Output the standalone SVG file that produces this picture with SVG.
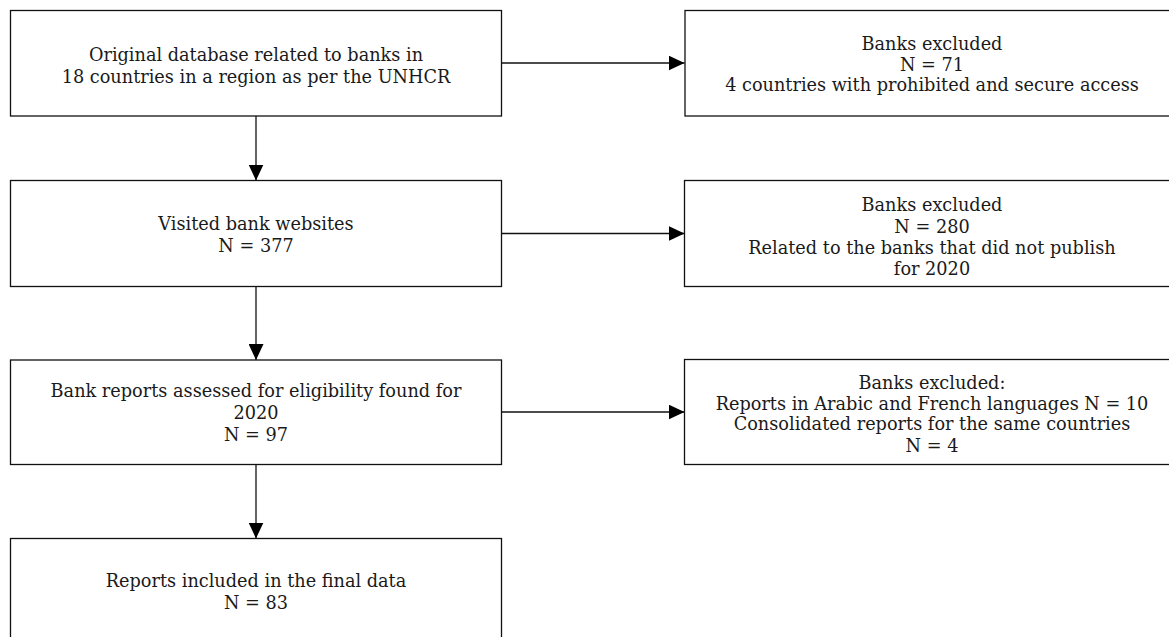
<svg xmlns="http://www.w3.org/2000/svg" width="1169" height="637" viewBox="0 0 1169 637">
<defs>
<marker id="arr" markerUnits="userSpaceOnUse" markerWidth="16" markerHeight="15" refX="16" refY="7.5" orient="auto">
<path d="M0,0 L16,7.5 L0,15 Z" fill="#000"/>
</marker>
<style>
.box{fill:#fff;stroke:#111;stroke-width:1.3}
.t{font-family:"DejaVu Serif","Liberation Serif",serif;font-size:17.7px;fill:#1a1a1a;text-anchor:middle}
.c{stroke:#111;stroke-width:1.3;fill:none}
</style>
</defs>
<rect width="1169" height="637" fill="#fff"/>
<g id="connectors">
<line class="c" x1="501.5" y1="63" x2="684.5" y2="63" marker-end="url(#arr)"/>
<line class="c" x1="501.5" y1="233.5" x2="684.5" y2="233.5" marker-end="url(#arr)"/>
<line class="c" x1="501.5" y1="412" x2="684.5" y2="412" marker-end="url(#arr)"/>
<line class="c" x1="256" y1="116" x2="256" y2="180.5" marker-end="url(#arr)"/>
<line class="c" x1="256" y1="286.5" x2="256" y2="360" marker-end="url(#arr)"/>
<line class="c" x1="256" y1="464.5" x2="256" y2="538.5" marker-end="url(#arr)"/>
</g>
<g id="n1">
<rect class="box" x="10.5" y="10.5" width="491" height="105.5"/>
<text class="t" x="256" y="61">Original database related to banks in</text>
<text class="t" x="256" y="83">18 countries in a region as per the UNHCR</text>
</g>
<g id="n2">
<rect class="box" x="685" y="10.5" width="494" height="105.5"/>
<text class="t" x="932" y="50">Banks excluded</text>
<text class="t" x="932" y="71">N = 71</text>
<text class="t" x="932" y="91">4 countries with prohibited and secure access</text>
</g>
<g id="n3">
<rect class="box" x="10.5" y="180.5" width="491" height="106"/>
<text class="t" x="256" y="230">Visited bank websites</text>
<text class="t" x="256" y="251.5">N = 377</text>
</g>
<g id="n4">
<rect class="box" x="684.5" y="180.5" width="494" height="106"/>
<text class="t" x="932" y="211">Banks excluded</text>
<text class="t" x="932" y="233">N = 280</text>
<text class="t" x="932" y="254">Related to the banks that did not publish</text>
<text class="t" x="932" y="275">for 2020</text>
</g>
<g id="n5">
<rect class="box" x="10.5" y="360" width="491" height="104.5"/>
<text class="t" x="256" y="397">Bank reports assessed for eligibility found for</text>
<text class="t" x="256" y="419">2020</text>
<text class="t" x="256" y="441">N = 97</text>
</g>
<g id="n6">
<rect class="box" x="684.5" y="359.5" width="494" height="105"/>
<text class="t" x="932" y="389">Banks excluded:</text>
<text class="t" x="932" y="409.5">Reports in Arabic and French languages N = 10</text>
<text class="t" x="932" y="430">Consolidated reports for the same countries</text>
<text class="t" x="932" y="451.5">N = 4</text>
</g>
<g id="n7">
<rect class="box" x="10.5" y="538.5" width="491" height="110"/>
<text class="t" x="256" y="587">Reports included in the final data</text>
<text class="t" x="256" y="609">N = 83</text>
</g>
</svg>
